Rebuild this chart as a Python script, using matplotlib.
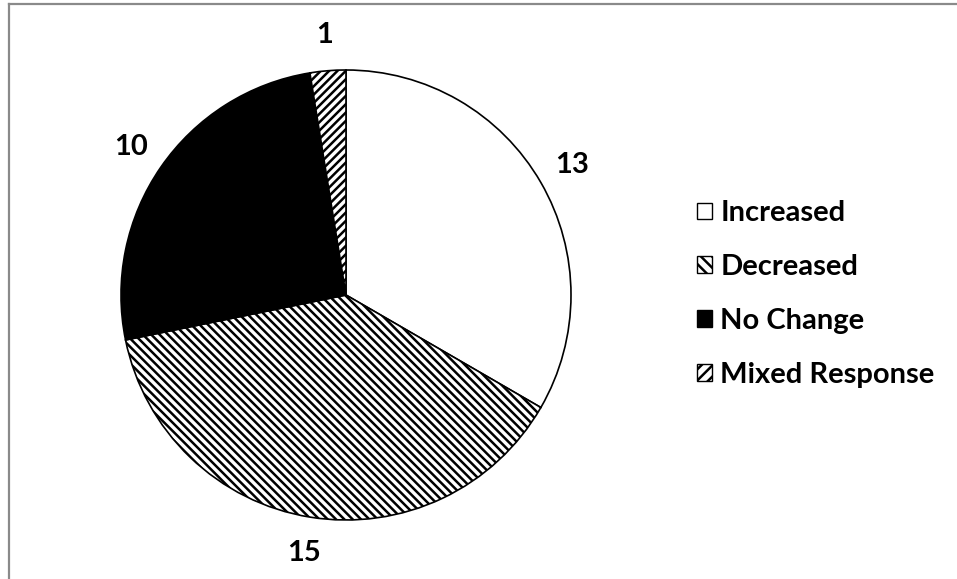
import matplotlib
matplotlib.use("Agg")
import matplotlib.pyplot as plt
import numpy as np
from matplotlib.lines import Line2D
from matplotlib.patches import Patch

categories = ["Increased", "Decreased", "No Change", "Mixed Response"]
counts = [13, 15, 10, 1]
fills = ["white", "white", "black", "white"]
hatches = ["", "\\\\\\\\", "", "////"]
legend_hatches = ["", "\\\\\\", "", "///"]

plt.rcParams["font.family"] = ["Lato", "DejaVu Sans"]
plt.rcParams["hatch.linewidth"] = 1.8

W, H = 957, 579
fig = plt.figure(figsize=(W / 100, H / 100), dpi=100)

# pie axes: centre (346, 295) px, radius 225 px
cx, cy, r = 346, 295, 225
ax = fig.add_axes([(cx - r) / W, (H - cy - r) / H, 2 * r / W, 2 * r / H])
wedges, _ = ax.pie(
    counts,
    colors=fills,
    startangle=90,
    counterclock=False,
    wedgeprops=dict(edgecolor="black", linewidth=1.2),
)
for wedge, hatch in zip(wedges, hatches):
    wedge.set_hatch(hatch)

for wedge, count in zip(wedges, counts):
    mid = np.deg2rad((wedge.theta1 + wedge.theta2) / 2)
    ax.text(1.16 * np.cos(mid), 1.16 * np.sin(mid), str(count),
            ha="center", va="center", fontsize=21, fontweight="bold")
ax.set_xlim(-1, 1)
ax.set_ylim(-1, 1)
ax.set_aspect("equal")
ax.axis("off")

handles = [
    Patch(facecolor=f, edgecolor="black", hatch=h, linewidth=1)
    for f, h in zip(fills, legend_hatches)
]
fig.legend(
    handles, categories,
    loc="center left",
    bbox_to_anchor=(697 / W, 1 - 294 / H),
    frameon=False,
    borderpad=0,
    borderaxespad=0,
    handlelength=0.5,
    handleheight=0.5,
    handletextpad=0.3,
    labelspacing=0.95,
    prop=dict(size=21, weight="bold"),
)

# frame lines of the chart area
fig.add_artist(Line2D([8.5 / W, 1], [1 - 3.5 / H, 1 - 3.5 / H], color="#8a8a8a", lw=1.6))
fig.add_artist(Line2D([8.5 / W, 8.5 / W], [0, 1 - 3.5 / H], color="#8a8a8a", lw=1.6))

fig.savefig("out.png", dpi=100)
